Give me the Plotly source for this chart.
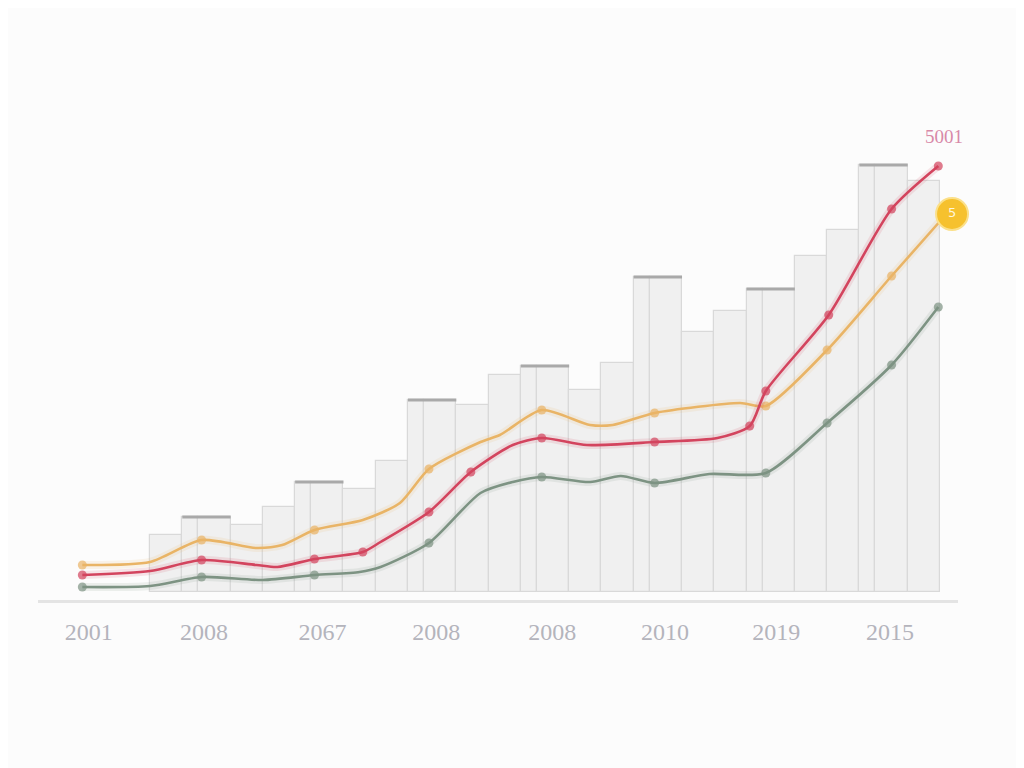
import plotly.graph_objects as go

# ---- data ----
bar_values = [57, 75, 67, 85, 110, 103, 131, 192, 187, 217, 226, 202, 229, 315, 260, 281, 303, 336, 362, 427, 411]
bar_kind = ['n', 'w', 'n', 'n', 'w', 'n', 'n', 'w', 'n', 'n', 'w', 'n', 'n', 'w', 'n', 'n', 'w', 'n', 'n', 'w', 'n']

tick_pos = [-3.8, 3.35, 10.7, 17.75, 24.95, 31.95, 38.85, 45.9]
tick_labels = ["2001", "2008", "2067", "2008", "2008", "2010", "2019", "2015"]

orange_x = [-4.2, 0, 3.2, 6.6, 8.2, 10.2, 13.2, 15.5, 17.3, 20.5, 21.7, 24.3, 27.3, 28.7, 31.3, 36.6, 38.2, 42.0, 46.0, 49.4]
orange_y = [27, 30, 52, 44, 47, 62, 72, 89, 123, 150, 157, 182, 167, 167, 179, 189, 186, 242, 316, 378]
orange_m = [1, 0, 1, 0, 0, 1, 0, 0, 1, 0, 0, 1, 0, 0, 1, 0, 1, 1, 1, 0]

red_x = [-4.2, 0, 3.2, 6.6, 7.9, 10.2, 13.2, 14.3, 17.3, 19.9, 22.5, 24.3, 27.1, 31.3, 35.2, 37.2, 38.2, 42.1, 46.0, 48.9]
red_y = [17, 21, 32, 27, 25, 33, 40, 50, 80, 120, 147, 154, 147, 150, 154, 166, 201, 277, 383, 426]
red_m = [1, 0, 1, 0, 0, 1, 1, 0, 1, 1, 0, 1, 0, 1, 0, 1, 1, 1, 1, 1]

green_x = [-4.2, 0, 3.2, 7.0, 10.2, 13.0, 14.3, 17.3, 20.5, 22.5, 24.3, 27.3, 29.2, 31.3, 34.7, 38.2, 42.0, 46.0, 48.9]
green_y = [5, 6, 15, 12, 17, 20, 25, 49, 99, 110, 115, 110, 116, 109, 118, 119, 169, 227, 285]
green_m = [1, 0, 1, 0, 1, 0, 0, 1, 0, 0, 1, 0, 0, 1, 0, 1, 1, 1, 1]

top_label = "5001"
badge_label = "5"

# ---- styles ----
unit_w = {'n': 2, 'w': 3}
bar_fill = "#f0f0f0"
bar_edge = "#d9d9d9"
top_edge = "#a9a9a9"
c_orange = "#e9b466"
c_red = "#d3445e"
c_green = "#7d9383"

fig = go.Figure()

# bars (wide bars drawn as a 1-unit + 2-unit pair sharing the same height)
bx, bw, bh = [], [], []
tops_x, tops_y = [], []
start = 0
for v, k in zip(bar_values, bar_kind):
    w = unit_w[k]
    if k == 'w':
        bx += [start + 0.5, start + 2.0]
        bw += [1, 2]
        bh += [v, v]
        tops_x += [start, start + w, None]
        tops_y += [v, v, None]
    else:
        bx.append(start + w / 2)
        bw.append(w)
        bh.append(v)
    start += w

fig.add_trace(go.Bar(x=bx, y=bh, width=bw, marker=dict(color=bar_fill, line=dict(color=bar_edge, width=1.2)),
                     showlegend=False, hoverinfo="skip"))
fig.add_trace(go.Scatter(x=tops_x, y=tops_y, mode="lines", line=dict(color=top_edge, width=3),
                         showlegend=False, hoverinfo="skip"))

def add_series(xs, ys, ms, color):
    fig.add_trace(go.Scatter(x=xs, y=ys, mode="lines", line=dict(color=color, width=8, shape="spline", smoothing=0.7),
                             opacity=0.13, showlegend=False, hoverinfo="skip"))
    fig.add_trace(go.Scatter(x=xs, y=ys, mode="lines+markers",
                             line=dict(color=color, width=2.6, shape="spline", smoothing=0.7),
                             marker=dict(color=color, size=[9 if m else 0 for m in ms], line=dict(width=0)),
                             showlegend=False))

add_series(green_x, green_y, green_m, c_green)
add_series(orange_x, orange_y, orange_m, c_orange)
add_series(red_x, red_y, red_m, c_red)

# badge at the end of the orange series
fig.add_trace(go.Scatter(x=[orange_x[-1] + 0.35], y=[orange_y[-1]], mode="markers+text",
                         marker=dict(color="#f6c12e", size=32, line=dict(color="#fbe08a", width=2)),
                         text=[badge_label], textposition="middle center",
                         textfont=dict(color="#fff6dc", size=13, family="DejaVu Sans"),
                         cliponaxis=False, showlegend=False, hoverinfo="skip"))

fig.add_annotation(x=red_x[-1], y=red_y[-1], text=top_label, showarrow=False, yshift=30, xshift=6,
                   font=dict(color="#d889a8", size=19, family="Liberation Serif"))

fig.update_layout(
    width=1024, height=768,
    margin=dict(l=30, r=74, t=92, b=176),
    paper_bgcolor="#fcfcfc", plot_bgcolor="rgba(0,0,0,0)",
    bargap=0, barmode="overlay",
    xaxis=dict(range=[-6.95, 50.12], showgrid=False, zeroline=False, showline=True,
               linecolor="#e4e4e4", linewidth=3, tickvals=tick_pos, ticktext=tick_labels,
               ticks="outside", ticklen=8, tickcolor="rgba(0,0,0,0)",
               tickfont=dict(family="Liberation Serif", size=24, color="#b4b4bc")),
    yaxis=dict(range=[-8, 492], showgrid=False, zeroline=False, showticklabels=False, showline=False),
)

fig.write_html("out.html")
